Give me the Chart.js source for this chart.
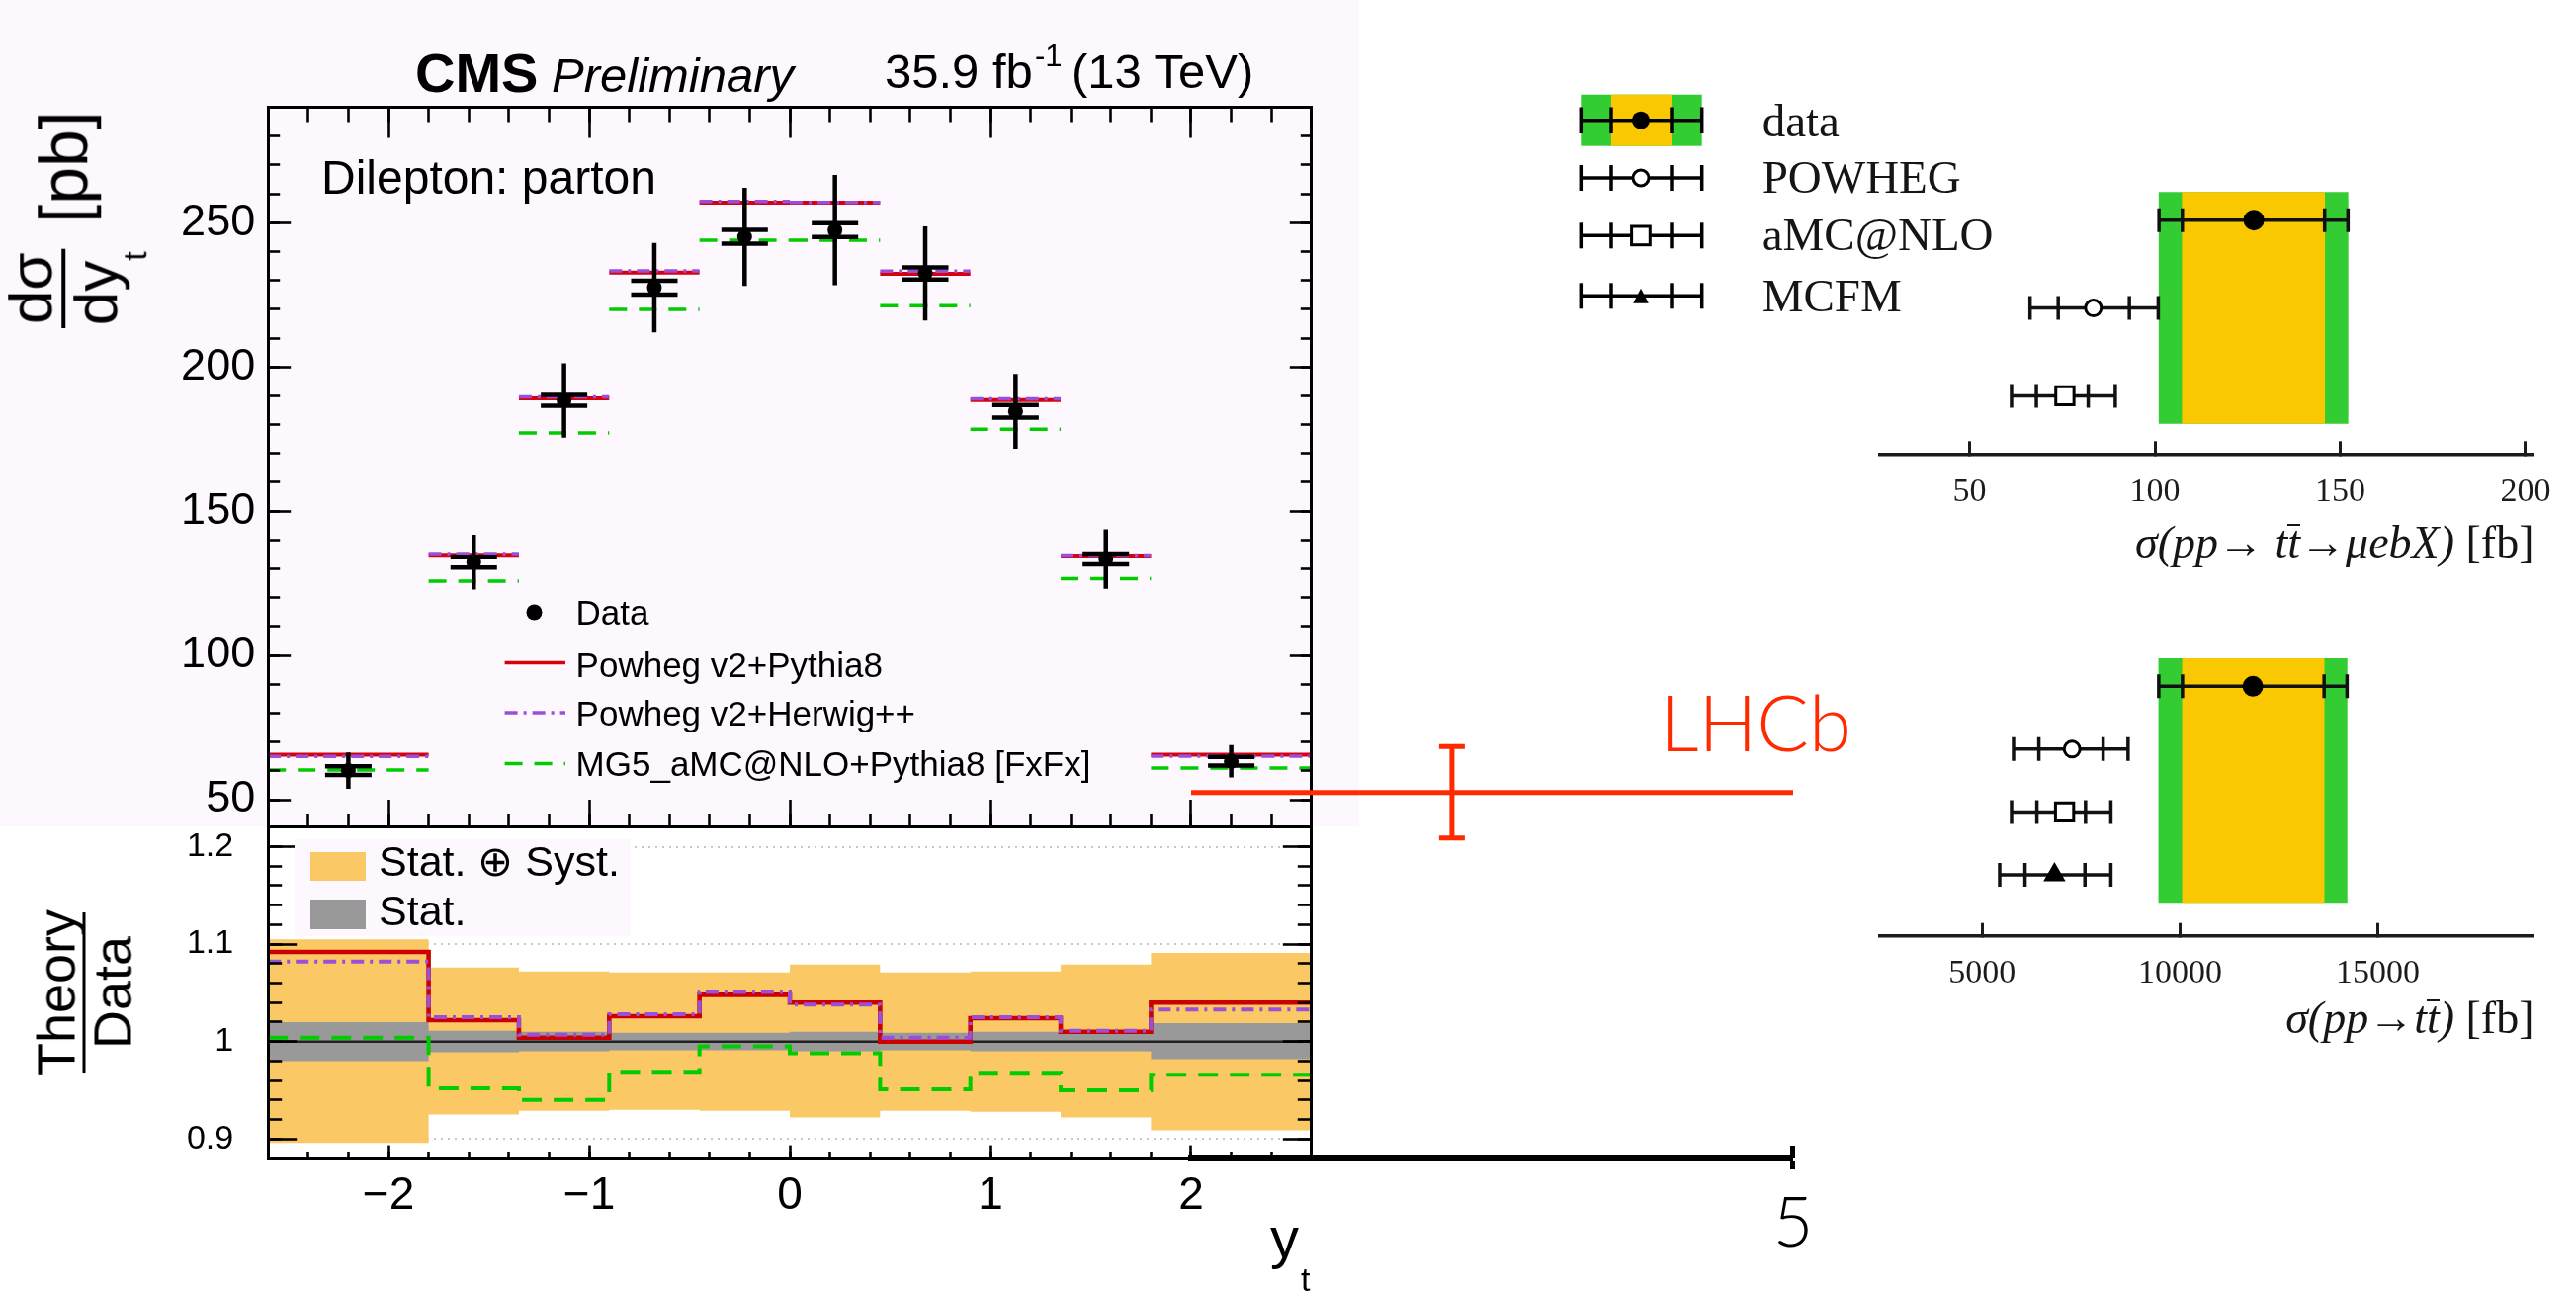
<!DOCTYPE html>
<html>
<head>
<meta charset="utf-8">
<title>CMS dsigma/dy_t with LHCb range and cross-section summaries</title>
<script src="https://cdn.jsdelivr.net/npm/chart.js@4.4.1/dist/chart.umd.min.js"></script>
<style>
  html, body { margin: 0; padding: 0; background: #fff; }
  #page { position: relative; width: 2606px; height: 1306px; overflow: hidden; background: #fff; }
  #pink { position: absolute; left: 0; top: 0; width: 1375px; height: 836px; background: #fdf8fd; }
  canvas { position: absolute; left: 0; top: 0; }
  svg { position: absolute; overflow: visible; }
  .t { position: absolute; white-space: nowrap; line-height: 1; color: #000; }
  .sans { font-family: "Liberation Sans", Arial, Helvetica, sans-serif; }
  .serif { font-family: "Liberation Serif", "Times New Roman", serif; color: #151515; }
  .thin { font-family: Lato, "Open Sans", sans-serif; font-weight: 300; }
  .rot { position: absolute; transform: translate(-50%, -50%) rotate(-90deg); display: inline-flex; align-items: center; white-space: nowrap; line-height: 1; }
  .frac { display: inline-flex; flex-direction: column; align-items: center; }
  .bar { background: #000; }
  .tbar { display: inline-block; border-top: 2.5px solid currentColor; line-height: 0.74; }
</style>
</head>
<body>
<div id="page">
  <div id="pink"></div>
  <canvas id="upper" width="2606" height="1306"></canvas>
  <canvas id="ratio" width="2606" height="1306"></canvas>
  <canvas id="fid" width="2606" height="1306"></canvas>
  <canvas id="incl" width="2606" height="1306"></canvas>

  <!-- CMS panel texts -->
  <div class="t sans" style="left:420px;top:45.6px;font-size:56px;font-weight:bold">CMS</div>
  <div class="t sans" style="left:558px;top:51.5px;font-size:49px;font-style:italic">Preliminary</div>
  <div class="t sans" style="left:895px;top:47.5px;font-size:49px">35.9 fb</div>
  <div class="t sans" style="left:1047px;top:40.8px;font-size:31px">-1</div>
  <div class="t sans" style="left:1084px;top:47.5px;font-size:49px">(13 TeV)</div>
  <div class="t sans" style="left:325px;top:156.4px;font-size:48px">Dilepton: parton</div>

  <svg style="left:500px;top:600px" width="90" height="190">
    <circle cx="40.5" cy="19.5" r="8" fill="#000"/>
    <line x1="10.6" y1="70.5" x2="72" y2="70.5" stroke="#d7000f" stroke-width="3.5"/>
    <line x1="10.6" y1="121" x2="72" y2="121" stroke="#9b4fd8" stroke-width="3.5" stroke-dasharray="13 6 3 6"/>
    <line x1="10.6" y1="172.4" x2="72" y2="172.4" stroke="#00cc00" stroke-width="3.5" stroke-dasharray="18 12"/>
  </svg>
  <div class="t sans" style="left:582.6px;top:602.4px;font-size:35px">Data</div>
  <div class="t sans" style="left:582.6px;top:654.9px;font-size:35px">Powheg v2+Pythia8</div>
  <div class="t sans" style="left:582.6px;top:703.9px;font-size:35px">Powheg v2+Herwig++</div>
  <div class="t sans" style="left:582.6px;top:755.4px;font-size:35px">MG5_aMC@NLO+Pythia8 [FxFx]</div>

  <div style="position:absolute;left:298px;top:849px;width:340px;height:98px;background:#fdf8fd"></div>
  <div style="position:absolute;left:314px;top:862px;width:56px;height:29px;background:#fac864"></div>
  <div style="position:absolute;left:314px;top:910px;width:56px;height:30px;background:#999999"></div>
  <div class="t sans" style="left:383px;top:849.6px;font-size:43px">Stat. ⊕ Syst.</div>
  <div class="t sans" style="left:383px;top:899.6px;font-size:43px">Stat.</div>

  <div class="rot sans" style="left:64px;top:222px;font-size:62px">
    <span class="frac"><span>dσ</span><span class="bar" style="width:80px;height:3.5px"></span><span>dy<span style="font-size:34px;position:relative;top:30px">t</span></span></span>
    <span style="margin-left:26px;font-size:68px">[pb]</span>
  </div>
  <div class="rot sans" style="left:85px;top:1003.5px;font-size:54px">
    <span class="frac"><span>Theory</span><span class="bar" style="width:162px;height:3px"></span><span>Data</span></span>
  </div>
  <div class="t sans" style="left:1285px;top:1222.9px;font-size:58px">y</div>
  <div class="t sans" style="left:1316px;top:1277.2px;font-size:34px">t</div>

  <!-- summary plots texts -->
  <svg style="left:1590px;top:90px" width="140" height="240">
    <rect x="9.3" y="5.7" width="122.4" height="52" fill="#33cc33"/>
    <rect x="40" y="5.7" width="61" height="52" fill="#f9c800"/>
    <g stroke="#000" stroke-width="3.5">
      <line x1="9.3" y1="31.7" x2="131.7" y2="31.7"/>
      <line x1="9.3" y1="18.5" x2="9.3" y2="45"/><line x1="40" y1="18.5" x2="40" y2="45"/>
      <line x1="101" y1="18.5" x2="101" y2="45"/><line x1="131.7" y1="18.5" x2="131.7" y2="45"/>
      <line x1="9.3" y1="90" x2="131.7" y2="90"/>
      <line x1="9.3" y1="77" x2="9.3" y2="103"/><line x1="40" y1="77" x2="40" y2="103"/>
      <line x1="101" y1="77" x2="101" y2="103"/><line x1="131.7" y1="77" x2="131.7" y2="103"/>
      <line x1="9.3" y1="148.3" x2="131.7" y2="148.3"/>
      <line x1="9.3" y1="135.3" x2="9.3" y2="161.3"/><line x1="40" y1="135.3" x2="40" y2="161.3"/>
      <line x1="101" y1="135.3" x2="101" y2="161.3"/><line x1="131.7" y1="135.3" x2="131.7" y2="161.3"/>
      <line x1="9.3" y1="209.3" x2="131.7" y2="209.3"/>
      <line x1="9.3" y1="196.3" x2="9.3" y2="222.3"/><line x1="40" y1="196.3" x2="40" y2="222.3"/>
      <line x1="101" y1="196.3" x2="101" y2="222.3"/><line x1="131.7" y1="196.3" x2="131.7" y2="222.3"/>
    </g>
    <circle cx="70" cy="31.7" r="9" fill="#000"/>
    <circle cx="70" cy="90" r="8" fill="#fff" stroke="#000" stroke-width="3"/>
    <rect x="60.6" y="139" width="18.7" height="18.7" fill="#fff" stroke="#000" stroke-width="3"/>
    <polygon points="70,201.7 62.2,216.7 77.8,216.7" fill="#000"/>
  </svg>
  <div class="t serif" style="left:1782.7px;top:98.9px;font-size:47px">data</div>
  <div class="t serif" style="left:1782.7px;top:155.9px;font-size:47px">POWHEG</div>
  <div class="t serif" style="left:1782.7px;top:213.9px;font-size:47px">aMC@NLO</div>
  <div class="t serif" style="left:1782.7px;top:275.9px;font-size:47px">MCFM</div>
  <div class="t serif" style="right:42.5px;top:526.3px;font-size:46px"><i>σ(pp→ t<span class="tbar">t</span>→μebX)</i> [fb]</div>
  <div class="t serif" style="right:42.5px;top:1007.3px;font-size:46px"><i>σ(pp→t<span class="tbar">t</span>)</i> [fb]</div>

  <div class="t thin" style="left:1679px;top:690.8px;font-size:78px;color:#ff2a00">LHCb</div>
  <canvas id="lhcb" width="2606" height="1306"></canvas>
</div>

<script>
// ---------- values ----------
// CMS, dilepton channel, parton level: dsigma/dy_t in pb
const ytBinEdges = [-2.6, -1.8, -1.35, -0.9, -0.45, 0, 0.45, 0.9, 1.35, 1.8, 2.6];
const dataXsec = [60.1, 132.3, 188.4, 227.5, 245.1, 247.4, 232.4, 184.6, 133.4, 63.3];
const dataTotalUnc = [6.3, 9.5, 12.9, 15.5, 17.0, 19.1, 16.3, 13.0, 10.3, 5.6];
const dataStatUnc = [1.5, 1.9, 1.9, 2.4, 2.4, 2.4, 2.1, 2.2, 1.9, 1.5];
const powhegPythia8 = [65.6, 134.9, 189.1, 232.7, 256.9, 256.9, 232.3, 188.5, 134.6, 65.6];
const powhegHerwig = [65.0, 135.3, 189.6, 233.3, 257.4, 257.0, 233.2, 188.9, 134.8, 65.1];
const mg5Pythia8 = [60.3, 125.7, 177.1, 219.9, 243.9, 243.9, 221.2, 178.4, 126.6, 61.0];

// Theory / Data
const ratioPowhegPythia8 = [1.092, 1.022, 1.004, 1.026, 1.048, 1.040, 1.000, 1.024, 1.010, 1.040];
const ratioPowhegHerwig = [1.082, 1.025, 1.007, 1.028, 1.051, 1.038, 1.004, 1.025, 1.011, 1.033];
const ratioMg5Pythia8 = [1.004, 0.952, 0.940, 0.969, 0.995, 0.988, 0.951, 0.968, 0.950, 0.966];
const ratioTotalHigh = [1.105, 1.076, 1.072, 1.071, 1.071, 1.079, 1.071, 1.072, 1.079, 1.091];
const ratioTotalLow = [0.896, 0.925, 0.929, 0.930, 0.929, 0.922, 0.929, 0.928, 0.922, 0.909];
const ratioStatHigh = [1.020, 1.011, 1.010, 1.009, 1.009, 1.010, 1.009, 1.010, 1.010, 1.019];
const ratioStatLow = [0.980, 0.989, 0.990, 0.991, 0.991, 0.990, 0.991, 0.990, 0.990, 0.982];

// LHCb range drawn over the CMS plot
const lhcbYtRange = [2, 5];
const lhcbYtCentre = 3.3;
const lhcbXsec = 52.5;
const lhcbUnc = [15.8, 15.9];

// cross-section summaries, fb (data first)
const summaryModels = ['data', 'POWHEG', 'aMC@NLO', 'MCFM'];
const fidCentral = [126.7, 83.4, 75.7];
const fidInnerLow = [107.4, 73.9, 68.0];
const fidInnerHigh = [145.8, 93.1, 82.0];
const fidOuterLow = [101.1, 66.3, 61.3];
const fidOuterHigh = [152.1, 100.9, 89.3];
const inclCentral = [11840, 7270, 7080, 6825];
const inclInnerLow = [10060, 6430, 6380, 6080];
const inclInnerHigh = [13640, 8055, 7610, 7595];
const inclOuterLow = [9460, 5790, 5740, 5440];
const inclOuterHigh = [14220, 8685, 8250, 8250];

// tick labels
const ytTicks = [-2, -1, 0, 1, 2];
const xsecTicks = [50, 100, 150, 200, 250];
const ratioTicks = [0.9, 1, 1.1, 1.2];
const lhcbTicks = [5];
const fidTicks = [50, 100, 150, 200];
const inclTicks = [5000, 10000, 15000];

// ---------- page layout ----------
const W = 2606, H = 1306;
const cms = { left: 271.2, right: 1326.8, top: 108.5, split: 836, bottom: 1171 };
const ytRange = { min: -2.6, max: 2.6 };
const xsecRange = { min: 40.75, max: 290 };
const ratioRange = { min: 0.881, max: 1.2208 };
const LABEL_SPACE = 150;   // room kept for tick labels outside a frame

const RED = '#d7000f', PURPLE = '#9b4fd8', GREEN = '#00cc00';
const ORANGE = '#fac864', GREY = '#999999';
const BAND_GREEN = '#33cc33', BAND_YELLOW = '#f9c800', LHCB_RED = '#ff2a00';
const SANS = '"Liberation Sans", Arial, sans-serif';
const SERIF = '"Liberation Serif", "Times New Roman", serif';
const THIN = 'Lato, "Open Sans", sans-serif';

// padding so that the plotting area is exactly [l, r] x [t, b];
// sides listed in `labelled` keep LABEL_SPACE for an axis with tick labels
function pad(l, t, r, b, labelled) {
  labelled = labelled || [];
  const s = side => (labelled.indexOf(side) >= 0 ? LABEL_SPACE : 0);
  return { left: l - s('left'), top: t - s('top'), right: W - r - s('right'), bottom: H - b - s('bottom') };
}

// one side of a ROOT style frame: border + ticks pointing into the frame
function frameAxis(position, range, step, len, extra) {
  extra = extra || {};
  const horizontal = position === 'top' || position === 'bottom';
  const labelled = !!(extra.ticks && extra.ticks.display);
  const size = labelled ? LABEL_SPACE : 0;
  const axis = {
    type: 'linear', axis: horizontal ? 'x' : 'y', position: position, weight: labelled ? 10 : 0,
    min: range.min, max: range.max, bounds: 'ticks', offset: false, beginAtZero: false,
    afterFit: s => {
      if (horizontal) s.height = size; else s.width = size;
      s.paddingLeft = s.paddingRight = s.paddingTop = s.paddingBottom = 0;
    },
    grid: { display: true, drawOnChartArea: false, drawTicks: true, tickLength: -len,
            tickWidth: extra.tickWidth || 2.6, tickColor: extra.color || '#000', offset: false, z: 1 },
    border: { display: !!extra.border, width: extra.border || 0, color: extra.color || '#000', z: 1 },
    ticks: Object.assign({ display: false, stepSize: step, includeBounds: false, autoSkip: false, maxRotation: 0, z: 1 }, extra.ticks || {})
  };
  if (extra.values) {
    axis.afterBuildTicks = s => { s.ticks = extra.values.map(v => ({ value: v })); };
  }
  return axis;
}

function baseOptions(padding, scales) {
  return {
    responsive: false, animation: false, devicePixelRatio: 1, events: [],
    layout: { padding: padding },
    plugins: { legend: { display: false }, tooltip: { enabled: false }, title: { display: false } },
    scales: scales
  };
}

const binCentres = ytBinEdges.slice(0, -1).map((lo, i) => (lo + ytBinEdges[i + 1]) / 2);

// horizontal bar per bin, not connected
function flatSegments(values) {
  const pts = [];
  values.forEach((v, i) => {
    pts.push({ x: ytBinEdges[i], y: v }, { x: ytBinEdges[i + 1], y: v }, { x: ytBinEdges[i + 1], y: null });
  });
  return pts;
}
// connected histogram outline
function stepOutline(values) {
  const pts = [];
  values.forEach((v, i) => pts.push({ x: ytBinEdges[i], y: v }, { x: ytBinEdges[i + 1], y: v }));
  return pts;
}

// ---------- upper CMS panel ----------
const errorBars = [], statCaps = [], dataPoints = [];
binCentres.forEach((c, i) => {
  errorBars.push({ x: c, y: dataXsec[i] - dataTotalUnc[i] }, { x: c, y: dataXsec[i] + dataTotalUnc[i] }, { x: c, y: null });
  statCaps.push({ x: c, y: dataXsec[i] - dataStatUnc[i] }, { x: c, y: dataXsec[i] + dataStatUnc[i] });
  dataPoints.push({ x: c, y: dataXsec[i] });
});

new Chart(document.getElementById('upper'), {
  type: 'line',
  data: {
    datasets: [
      { label: 'Powheg v2+Pythia8', data: flatSegments(powhegPythia8), borderColor: RED, borderWidth: 4, pointRadius: 0, order: 6 },
      { label: 'Powheg v2+Herwig++', data: flatSegments(powhegHerwig), borderColor: PURPLE, borderWidth: 3.5, borderDash: [13, 6, 3, 6], pointRadius: 0, order: 5 },
      { label: 'MG5_aMC@NLO+Pythia8 [FxFx]', data: flatSegments(mg5Pythia8), borderColor: GREEN, borderWidth: 3.5, borderDash: [18, 12], pointRadius: 0, order: 4 },
      { label: 'total unc.', data: errorBars, borderColor: '#000', borderWidth: 4.5, pointRadius: 0, order: 3 },
      { label: 'stat. unc.', data: statCaps, showLine: false, pointStyle: 'line', pointRadius: 23.5, pointBorderWidth: 4.5, pointBorderColor: '#000', order: 2 },
      { label: 'Data', data: dataPoints, showLine: false, pointRadius: 7.5, pointBackgroundColor: '#000', pointBorderWidth: 0, order: 1 }
    ]
  },
  options: baseOptions(pad(cms.left, cms.top, cms.right, cms.split, ['left']), {
    x: frameAxis('bottom', ytRange, 1, 27, { border: 3, values: ytTicks }),
    xMinor: frameAxis('bottom', ytRange, 0.2, 13),
    xTop: frameAxis('top', ytRange, 1, 31, { border: 3, values: ytTicks }),
    xTopMinor: frameAxis('top', ytRange, 0.2, 15),
    y: frameAxis('left', xsecRange, 50, 23, { border: 3, values: xsecTicks,
      ticks: { display: true, padding: 36, color: '#000', font: { family: SANS, size: 45 }, callback: v => String(v) } }),
    yMinor: frameAxis('left', xsecRange, 10, 12),
    yRight: frameAxis('right', xsecRange, 50, 22, { border: 3, values: xsecTicks }),
    yRightMinor: frameAxis('right', xsecRange, 10, 11)
  })
});

// ---------- ratio panel ----------
new Chart(document.getElementById('ratio'), {
  type: 'line',
  data: {
    datasets: [
      { label: 'tot high', data: stepOutline(ratioTotalHigh), borderWidth: 0, pointRadius: 0, fill: false, order: 9 },
      { label: 'Stat. ⊕ Syst.', data: stepOutline(ratioTotalLow), borderWidth: 0, pointRadius: 0, fill: '-1', backgroundColor: ORANGE, order: 9 },
      { label: 'stat high', data: stepOutline(ratioStatHigh), borderWidth: 0, pointRadius: 0, fill: false, order: 8 },
      { label: 'Stat.', data: stepOutline(ratioStatLow), borderWidth: 0, pointRadius: 0, fill: '-1', backgroundColor: GREY, order: 8 },
      { label: 'unity', data: [{ x: ytBinEdges[0], y: 1 }, { x: ytBinEdges[ytBinEdges.length - 1], y: 1 }], borderColor: '#222', borderWidth: 2.5, pointRadius: 0, order: 7 },
      { label: 'MG5_aMC@NLO+Pythia8 [FxFx]', data: stepOutline(ratioMg5Pythia8), borderColor: GREEN, borderWidth: 4, borderDash: [20, 12], pointRadius: 0, order: 3 },
      { label: 'Powheg v2+Pythia8', data: stepOutline(ratioPowhegPythia8), borderColor: '#cc0000', borderWidth: 4.6, pointRadius: 0, order: 2 },
      { label: 'Powheg v2+Herwig++', data: stepOutline(ratioPowhegHerwig), borderColor: PURPLE, borderWidth: 4, borderDash: [13, 6, 3, 6], pointRadius: 0, order: 1 }
    ]
  },
  options: baseOptions(pad(cms.left, cms.split, cms.right, cms.bottom, ['left', 'bottom']), {
    x: frameAxis('bottom', ytRange, 1, 12.4, { border: 3, values: ytTicks,
      ticks: { display: true, padding: 24, color: '#000', font: { family: SANS, size: 46 },
               callback: v => (v < 0 ? '\u2212' + Math.abs(v) : String(v)) } }),
    xMinor: frameAxis('bottom', ytRange, 0.2, 6),
    y: frameAxis('left', ratioRange, 0.1, 29, { border: 3, values: ratioTicks,
      ticks: { display: true, padding: 64, color: '#000', font: { family: SANS, size: 34 }, callback: v => String(+v.toFixed(2)) } }),
    yMinor: frameAxis('left', ratioRange, 0.02, 14),
    yRight: frameAxis('right', ratioRange, 0.1, 29, { border: 3, values: ratioTicks }),
    yRightMinor: frameAxis('right', ratioRange, 0.02, 14),
    yGrid: {
      type: 'linear', axis: 'y', position: 'left', weight: 0, min: ratioRange.min, max: ratioRange.max, bounds: 'ticks',
      afterFit: s => { s.width = 0; },
      afterBuildTicks: s => { s.ticks = ratioTicks.map(v => ({ value: v })); },
      grid: { drawOnChartArea: true, drawTicks: false, lineWidth: 2, z: -1,
              color: c => (c.tick && Math.abs(c.tick.value - 1) < 1e-6 ? 'rgba(0,0,0,0)' : '#c6c6c6') },
      border: { display: false, dash: [2, 5] },
      ticks: { display: false }
    }
  })
});

// ---------- cross-section summaries ----------
const markerStyle = {
  'data': { style: 'circle', radius: 9, fill: '#000' },
  'POWHEG': { style: 'circle', radius: 8, fill: '#fff' },
  'aMC@NLO': { style: 'rect', radius: 13, fill: '#fff' },
  'MCFM': { style: 'triangle', radius: 10, fill: '#000' }
};
const BAND_OVERHANG = 28;

function summaryChart(canvasId, area, xRange, yRange, ticks, v) {
  const n = v.central.length;
  const models = summaryModels.slice(0, n);
  const rowOf = i => n - i;
  const pxPerRow = (area.bottom - area.top) / (yRange.max - yRange.min);
  const bandRow = (n + 1) / 2;
  const bandPx = (n - 1) * pxPerRow + 2 * BAND_OVERHANG;
  const lines = [], bars = [], marks = [];
  v.central.forEach((c, i) => {
    const r = rowOf(i);
    lines.push({ x: v.outerLow[i], y: r }, { x: v.outerHigh[i], y: r }, { x: v.outerHigh[i], y: null });
    [v.outerLow[i], v.innerLow[i], v.innerHigh[i], v.outerHigh[i]].forEach(x => bars.push({ x: x, y: r }));
    marks.push({ x: c, y: r });
  });
  return new Chart(document.getElementById(canvasId), {
    type: 'line',
    data: {
      datasets: [
        { type: 'bar', label: 'data total', indexAxis: 'y', grouped: false, barThickness: bandPx,
          data: [{ x: [v.outerLow[0], v.outerHigh[0]], y: bandRow }], backgroundColor: BAND_GREEN, order: 10 },
        { type: 'bar', label: 'data stat', indexAxis: 'y', grouped: false, barThickness: bandPx,
          data: [{ x: [v.innerLow[0], v.innerHigh[0]], y: bandRow }], backgroundColor: BAND_YELLOW, order: 9 },
        { label: 'ranges', data: lines, borderColor: '#111', borderWidth: 3.5, pointRadius: 0, order: 3 },
        { label: 'ticks', data: bars, showLine: false, pointStyle: 'line', pointRotation: 90, pointRadius: 12,
          pointBorderWidth: 3.5, pointBorderColor: '#111', order: 2 },
        { label: 'central', data: marks, showLine: false,
          pointStyle: models.map(m => markerStyle[m].style),
          pointRadius: models.map(m => markerStyle[m].radius),
          pointBackgroundColor: models.map(m => markerStyle[m].fill),
          pointBorderColor: '#000', pointBorderWidth: 3, order: 1 }
      ]
    },
    options: baseOptions(pad(area.left, area.top, area.right, area.bottom, ['bottom']), {
      x: frameAxis('bottom', xRange, 50, 13, { border: 3.5, tickWidth: 3, color: '#1c1c1c', values: ticks,
        ticks: { display: true, padding: 31, color: '#1c1c1c', font: { family: SERIF, size: 34 }, callback: t => String(t) } }),
      y: { type: 'linear', min: yRange.min, max: yRange.max, display: false, offset: false, beginAtZero: false, grid: { offset: false } }
    })
  });
}

summaryChart('fid', { left: 1901.5, right: 2563.5, top: 150, bottom: 459.3 },
  { min: 25.7, max: 202.3 }, { min: 0.337, max: 3.818 }, fidTicks,
  { central: fidCentral, innerLow: fidInnerLow, innerHigh: fidInnerHigh, outerLow: fidOuterLow, outerHigh: fidOuterHigh });

summaryChart('incl', { left: 1901.5, right: 2563.5, top: 620, bottom: 946.7 },
  { min: 2405, max: 18945 }, { min: 0.029, max: 5.169 }, inclTicks,
  { central: inclCentral, innerLow: inclInnerLow, innerHigh: inclInnerHigh, outerLow: inclOuterLow, outerHigh: inclOuterHigh });

// ---------- LHCb overlay: same y_t and pb scales as the CMS panel, axis extended to 5 ----------
const ytToPx = v => cms.left + (v - ytRange.min) / (ytRange.max - ytRange.min) * (cms.right - cms.left);
const pbPerPx = (xsecRange.max - xsecRange.min) / (cms.split - cms.top);
const overlayY = { min: xsecRange.min - (cms.bottom - cms.split) * pbPerPx, max: xsecRange.max };
const overlayX = { min: lhcbYtRange[0], max: lhcbYtRange[1] };
const lhcbBar = [{ x: lhcbYtCentre, y: lhcbXsec - lhcbUnc[0] }, { x: lhcbYtCentre, y: lhcbXsec + lhcbUnc[1] }];

new Chart(document.getElementById('lhcb'), {
  type: 'line',
  data: {
    datasets: [
      { label: 'LHCb range', data: lhcbYtRange.map(x => ({ x: x, y: lhcbXsec })), borderColor: LHCB_RED, borderWidth: 5, pointRadius: 0, order: 3 },
      { label: 'LHCb unc.', data: lhcbBar, borderColor: LHCB_RED, borderWidth: 5, pointRadius: 0, order: 2 },
      { label: 'LHCb caps', data: lhcbBar, showLine: false, pointStyle: 'line', pointRadius: 13, pointBorderWidth: 5, pointBorderColor: LHCB_RED, order: 1 }
    ]
  },
  options: baseOptions(pad(ytToPx(overlayX.min), cms.top, ytToPx(overlayX.max), cms.bottom, ['bottom']), {
    x: frameAxis('bottom', overlayX, 1, -12, { border: 6, tickWidth: 5, values: lhcbTicks,
      ticks: { display: true, padding: 13, color: '#000', font: { family: THIN, size: 70, weight: '300' }, callback: t => String(t) } }),
    xUp: frameAxis('bottom', overlayX, 1, 12, { tickWidth: 5, values: lhcbTicks }),
    y: { type: 'linear', min: overlayY.min, max: overlayY.max, display: false }
  })
});
</script>
</body>
</html>
